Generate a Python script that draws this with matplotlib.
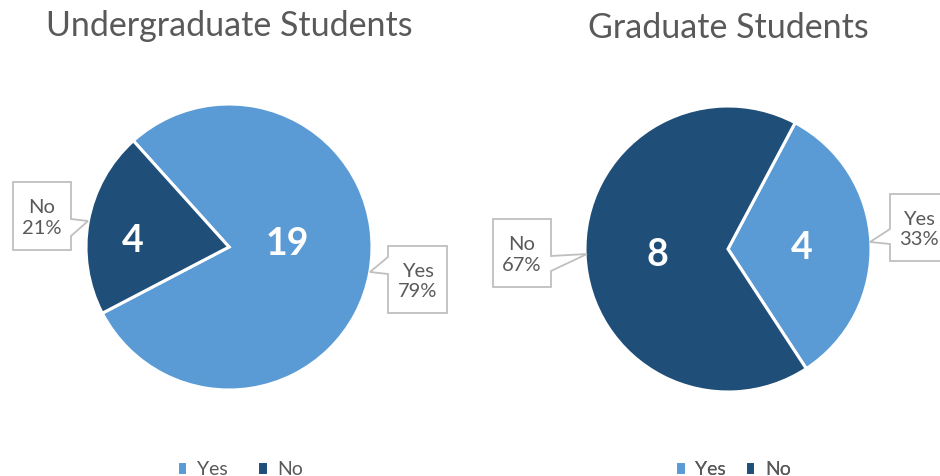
import matplotlib
matplotlib.use("Agg")
import matplotlib.pyplot as plt
from matplotlib.patches import Polygon

plt.rcParams['font.family'] = ['Lato', 'DejaVu Sans']

# data
categories = ['Yes', 'No']
undergrad_counts = [19, 4]
grad_counts = [4, 8]
undergrad_share = [79, 21]
grad_share = [33, 67]
undergrad_pct = ['79%', '21%']
grad_pct = ['33%', '67%']

colors = ['#5B9BD5', '#1F4E79']
text_gray = '#595959'
W, H = 940, 477


def py(y):
    # pixel row (top = 0) -> data y
    return H - y


def callout(ax, box, pointer, text):
    """box = (x0, y0, x1, y1), pointer = (side, a, b, tip), all in pixels"""
    x0, y0, x1, y1 = box
    side, a, b, tip = pointer
    if side == 'right':
        pts = [(x0, y0), (x1, y0), (x1, a), tip, (x1, b), (x1, y1), (x0, y1)]
    else:
        pts = [(x0, y0), (x1, y0), (x1, y1), (x0, y1), (x0, b), tip, (x0, a)]
    pts = [(px, py(pp)) for px, pp in pts]
    ax.add_patch(Polygon(pts, closed=True, facecolor='white',
                         edgecolor='#BFBFBF', linewidth=1.3, zorder=3))
    ax.text((x0 + x1) / 2, py((y0 + y1) / 2 + 1), text, ha='center',
            va='center', fontsize=14.5, color=text_gray, linespacing=1.25,
            zorder=4)


fig = plt.figure(figsize=(W / 100, H / 100), dpi=100)
ax = fig.add_axes([0, 0, 1, 1])

pies = [
    dict(share=undergrad_share, counts=undergrad_counts, center=(229, 248),
         start=132, title='Undergraduate Students', title_y=26,
         num_pos=[(287, 244), (133, 241)], leg_x=240, leg_gap=1.5),
    dict(share=grad_share, counts=grad_counts, center=(728, 250),
         start=62, title='Graduate Students', title_y=28,
         num_pos=[(802, 248), (657, 255)], leg_x=733, leg_gap=0.95),
]

radius = 143
for p in pies:
    cx, cy = p['center']
    wedges, _ = ax.pie(p['share'], colors=colors, startangle=p['start'],
                       counterclock=False, center=(cx, py(cy)), radius=radius,
                       wedgeprops=dict(edgecolor='white', linewidth=2.2))
    for val, (tx, ty) in zip(p['counts'], p['num_pos']):
        ax.text(tx, py(ty), str(val), ha='center', va='center', fontsize=27,
                fontweight='bold', color='white')
    ax.text(cx, py(p['title_y']), p['title'], ha='center', va='center',
            fontsize=24.5, color=text_gray)
    leg = ax.legend(wedges, categories, loc='center',
                    bbox_to_anchor=(p['leg_x'] / W, py(470) / H), ncol=2,
                    frameon=False, fontsize=14, handlelength=0.55,
                    handleheight=0.75, handletextpad=0.5,
                    columnspacing=p['leg_gap'], labelcolor=text_gray)
    ax.add_artist(leg)

callout(ax, (13, 183, 71, 251), ('right', 220, 237, (88, 222)),
        'No\n' + undergrad_pct[1])
callout(ax, (388, 247, 447, 314), ('left', 258, 275, (370, 273)),
        'Yes\n' + undergrad_pct[0])
callout(ax, (493, 220, 551, 288), ('right', 257, 272, (587, 255)),
        'No\n' + grad_pct[1])
callout(ax, (890, 195, 948, 262), ('left', 230, 245, (870, 243)),
        'Yes\n' + grad_pct[0])

ax.set_xlim(0, W)
ax.set_ylim(0, H)
ax.set_aspect('auto')
ax.axis('off')

fig.savefig('out.png', dpi=100)
